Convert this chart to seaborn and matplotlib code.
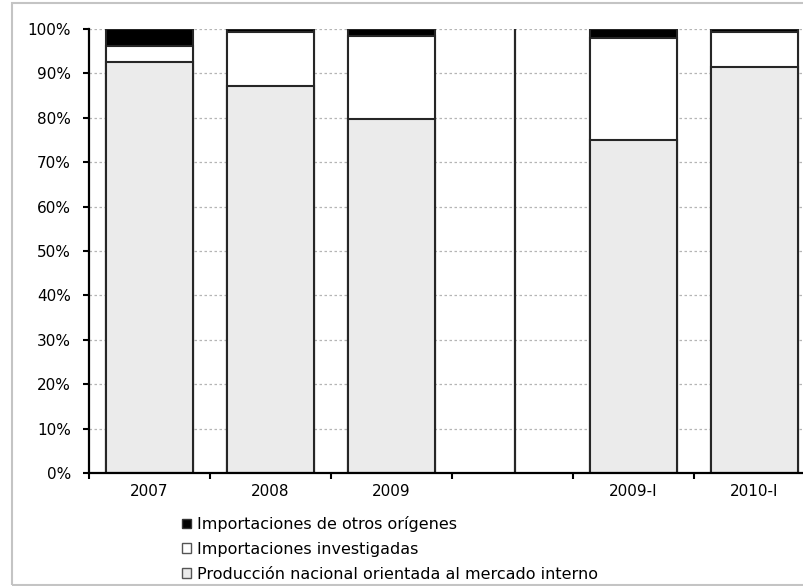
import numpy as np
import pandas as pd
import matplotlib
matplotlib.use("Agg")
import matplotlib.pyplot as plt
import seaborn as sns
from matplotlib.patches import Patch, Rectangle
from matplotlib.ticker import FixedLocator

# Share of the internal market (%) by period
periodos = ["2007", "2008", "2009", "", "2009-I", "2010-I"]
produccion = [92.6, 87.2, 79.7, np.nan, 74.9, 91.4]
investigadas = [3.6, 12.2, 18.8, np.nan, 23.1, 7.9]
otros = [3.8, 0.6, 1.5, np.nan, 2.0, 0.7]

etiquetas = [
    "Importaciones de otros orígenes",
    "Importaciones investigadas",
    "Producción nacional orientada al mercado interno",
]
colores = ["#000000", "#ffffff", "#ebebeb"]
yticks = [0, 10, 20, 30, 40, 50, 60, 70, 80, 90, 100]

df = pd.DataFrame({
    "periodo": periodos,
    "produccion": produccion,
    "investigadas": investigadas,
    "otros": otros,
})
# cumulative tops for the stacked layers
df["tope_prod"] = df["produccion"]
df["tope_inv"] = df["produccion"] + df["investigadas"]
df["tope_otros"] = df["tope_inv"] + df["otros"]

sns.set_theme(style="white")
plt.rcParams["font.family"] = ["DejaVu Sans"]
plt.rcParams["text.color"] = "black"

W, H = 804, 586
fig = plt.figure(figsize=(W / 100, H / 100), dpi=100)
fig.patch.set_facecolor("white")

ax = fig.add_axes([89 / W, (H - 473) / H, (W - 89) / W, (473 - 29) / H])
ax.set_facecolor("white")

edge = "#262626"
for col, color in zip(["tope_otros", "tope_inv", "tope_prod"], colores):
    sns.barplot(data=df, x="periodo", y=col, order=periodos, color=color,
                saturation=1, width=0.72, edgecolor=edge, linewidth=1.5,
                errorbar=None, ax=ax, zorder=3)

# separator between annual and partial periods
ax.axvline(3.02, color=edge, lw=1.6, zorder=3)

ax.set_xlim(-0.5, -0.5 + (W - 89) / 121)
ax.set_ylim(0, 100)
ax.set_yticks(yticks)
ax.set_yticklabels([f"{v}%" for v in yticks])
ax.set_xticks(range(len(periodos)))
ax.set_xticklabels(periodos)
ax.xaxis.set_minor_locator(FixedLocator(np.arange(-0.5, len(periodos), 1.0)))
ax.set_xlabel("")
ax.set_ylabel("")

ax.grid(axis="y", color="#b5b5b5", linestyle=(0, (2, 2)), linewidth=0.9, zorder=0)
ax.set_axisbelow(True)

for s in ["top", "right"]:
    ax.spines[s].set_visible(False)
for s in ["left", "bottom"]:
    ax.spines[s].set_color("black")
    ax.spines[s].set_linewidth(1.6)
    ax.spines[s].set_zorder(4)

ax.tick_params(axis="y", which="major", direction="out", length=4, width=1.5,
               color="black", pad=9, labelsize=11, labelcolor="black", left=True)
ax.tick_params(axis="x", which="major", length=0, pad=8, labelsize=11,
               labelcolor="black", bottom=True)
ax.tick_params(axis="x", which="minor", direction="out", length=4, width=1.5,
               color="black", bottom=True)

handles = [
    Patch(facecolor=colores[0], edgecolor="#333333", linewidth=1.0),
    Patch(facecolor=colores[1], edgecolor="#555555", linewidth=1.0),
    Patch(facecolor=colores[2], edgecolor="#555555", linewidth=1.0),
]
leg = fig.legend(handles, etiquetas, loc="upper left",
                 bbox_to_anchor=(182 / W, (H - 516) / H), frameon=False,
                 handlelength=0.55, handleheight=0.55, handletextpad=0.4,
                 labelspacing=0.62, borderpad=0, borderaxespad=0, fontsize=11.5)
for t in leg.get_texts():
    t.set_color("black")

# outer chart frame
fig.add_artist(Rectangle((12 / W, 1 / H), 1.0, (H - 4) / H,
                         transform=fig.transFigure, fill=False,
                         edgecolor="#c4c4c4", linewidth=1.5))

fig.savefig("out.png", dpi=100)
